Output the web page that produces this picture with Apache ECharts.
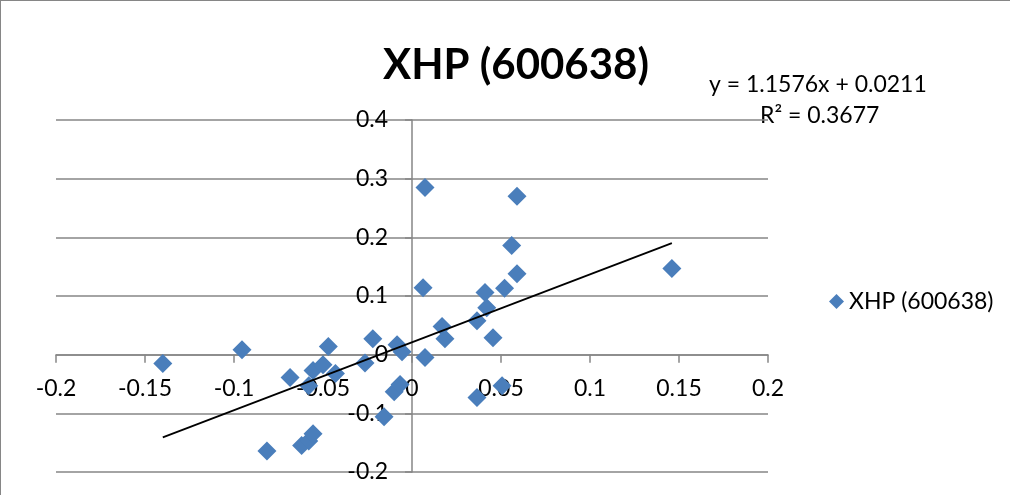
<!DOCTYPE html>
<html><head><meta charset="utf-8">
<script src="https://cdn.jsdelivr.net/npm/echarts@6/dist/echarts.min.js"></script>
<style>html,body{margin:0;padding:0;background:#fff}#c{width:1010px;height:495px}</style>
</head><body><div id="c"></div>
<script>
const seriesName = 'XHP (600638)';
const xValues = [-0.140,-0.0955,-0.0815,-0.0685,-0.062,-0.058,-0.0556,-0.058,-0.0556,-0.050,-0.047,-0.043,-0.0264,-0.022,-0.0157,-0.010,-0.0067,-0.0084,-0.0056,0.0073,0.0073,0.0062,0.0169,0.0185,0.0365,0.041,0.042,0.0455,0.052,0.059,0.056,0.059,0.146,0.0365,0.0506];
const yValues = [-0.015,0.0085,-0.164,-0.039,-0.155,-0.147,-0.135,-0.053,-0.027,-0.017,0.014,-0.032,-0.014,0.027,-0.106,-0.063,-0.051,0.017,0.005,-0.005,0.285,0.114,0.048,0.027,0.058,0.106,0.080,0.029,0.113,0.270,0.186,0.138,0.147,-0.073,-0.053];
const trendSlope = 1.1576, trendIntercept = 0.0211, rSquared = 0.3677;
const xTicks = [-0.2,-0.15,-0.1,-0.05,0,0.05,0.1,0.15,0.2];
const yTicks = [-0.2,-0.1,0,0.1,0.2,0.3,0.4];

const pts = xValues.map((x,i)=>[x,yValues[i]]);
const xMin = Math.min(...xValues), xMax = Math.max(...xValues);
const trend = [[xMin, trendSlope*xMin+trendIntercept],[xMax, trendSlope*xMax+trendIntercept]];
const F = 'Lato, "Liberation Sans", sans-serif';
const G = {left:56, right:242, top:120, bottom:23};
const plotW = 1010-G.left-G.right, plotH = 495-G.top-G.bottom;
const xMinAxis = xTicks[0], xMaxAxis = xTicks[xTicks.length-1];
const yMinAxis = yTicks[0], yMaxAxis = yTicks[yTicks.length-1];
const yZeroOffset = -plotW*(0-xMinAxis)/(xMaxAxis-xMinAxis);
const xZeroOffset = -plotH*(0-yMinAxis)/(yMaxAxis-yMinAxis);
const chart = echarts.init(document.getElementById('c'), null, {renderer:'canvas'});
chart.setOption({
  animation:false,
  backgroundColor:'#fff',
  title:{text:seriesName,left:511,top:60,textAlign:'center',textVerticalAlign:'middle',
    textStyle:{fontFamily:F,fontWeight:'bold',fontSize:42,color:'#000'}},
  grid:{left:G.left,right:G.right,top:G.top,bottom:G.bottom,containLabel:false,outerBoundsMode:'none'},
  legend:{data:[{name:seriesName,icon:'diamond'}],left:824,top:285,itemWidth:15,itemHeight:15,itemGap:5,
    textStyle:{fontFamily:F,fontSize:23,color:'#000'}},
  xAxis:{type:'value',min:xMinAxis,max:xMaxAxis,interval:0.05,offset:xZeroOffset,
    axisLine:{onZero:false,lineStyle:{color:'#868686',width:1.5}},
    axisTick:{show:true,length:8,lineStyle:{color:'#868686',width:1.5}},
    splitLine:{show:false},
    axisLabel:{margin:22,fontFamily:F,fontSize:23,color:'#000',formatter:v=>String(+v.toFixed(2))}},
  yAxis:{type:'value',min:yMinAxis,max:yMaxAxis,interval:0.1,offset:yZeroOffset,
    axisLine:{show:true,onZero:false,lineStyle:{color:'#868686',width:1.5}},
    axisTick:{show:true,length:7,lineStyle:{color:'#868686',width:1.5}},
    splitLine:{show:true,lineStyle:{color:'#868686',width:1.5}},
    axisLabel:{margin:24,fontFamily:F,fontSize:23,color:'#000',formatter:v=>String(+v.toFixed(2))}},
  series:[
    {name:seriesName,type:'scatter',data:pts,symbol:'diamond',symbolSize:19,
     itemStyle:{color:'#4a7ebb',opacity:1},z:3},
    {name:'trend',type:'line',data:trend,showSymbol:false,symbol:'none',
     lineStyle:{color:'#000',width:1.8},z:4,silent:true}
  ],
  graphic:[
    {type:'text',left:709,top:73,style:{text:'y = '+trendSlope+'x + '+trendIntercept,font:'23px '+F,fill:'#000'}},
    {type:'text',left:760,top:104,style:{text:'R² = '+rSquared,font:'23px '+F,fill:'#000'}},
    {type:'line',shape:{x1:0.5,y1:0,x2:0.5,y2:495},style:{stroke:'#868686',lineWidth:1},silent:true},
    {type:'line',shape:{x1:0,y1:0.5,x2:1010,y2:0.5},style:{stroke:'#868686',lineWidth:1},silent:true}
  ]
});
</script></body></html>
